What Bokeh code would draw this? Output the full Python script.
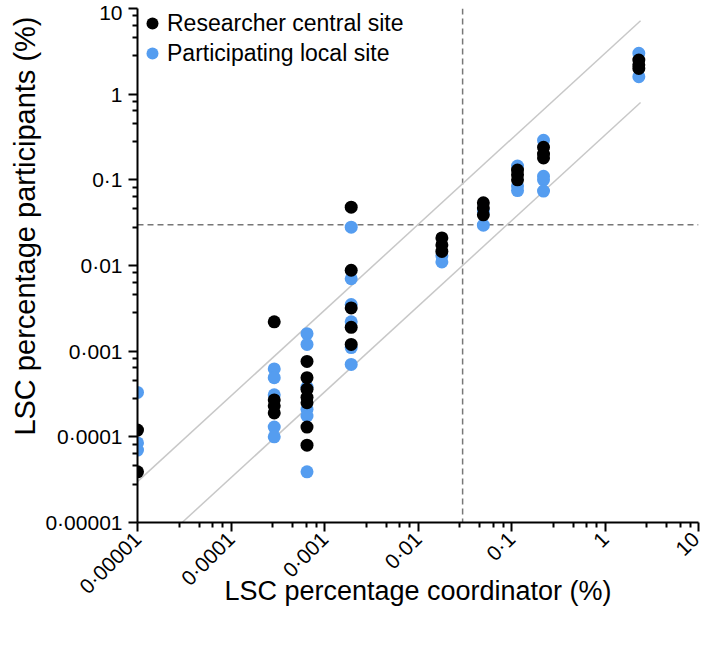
import math
from bokeh.plotting import figure
from bokeh.models import (FixedTicker, CustomJSTickFormatter, Span, Legend, LegendItem, Title)
from bokeh.embed import file_html
from bokeh.resources import INLINE

# ---- data (percent) ----
researcher_x = [1e-5, 1e-5,
                2.9e-4, 2.9e-4, 2.9e-4, 2.9e-4,
                6.5e-4, 6.5e-4, 6.5e-4, 6.5e-4, 6.5e-4, 6.5e-4, 6.5e-4,
                1.93e-3, 1.93e-3, 1.93e-3, 1.93e-3, 1.93e-3,
                0.018, 0.018, 0.018,
                0.05, 0.05, 0.05,
                0.116, 0.116, 0.116,
                0.22, 0.22, 0.22,
                2.3, 2.3, 2.3]
researcher_y = [1.2e-4, 3.9e-5,
                2.2e-3, 2.7e-4, 2.3e-4, 1.9e-4,
                7.6e-4, 4.9e-4, 3.6e-4, 2.9e-4, 2.5e-4, 1.3e-4, 8.0e-5,
                0.048, 8.8e-3, 3.2e-3, 1.9e-3, 1.2e-3,
                0.021, 0.0174, 0.0146,
                0.054, 0.047, 0.039,
                0.13, 0.115, 0.10,
                0.24, 0.20, 0.18,
                2.5, 2.2, 2.0]

local_x = [1e-5, 1e-5, 1e-5,
           2.9e-4, 2.9e-4, 2.9e-4, 2.9e-4, 2.9e-4,
           6.5e-4, 6.5e-4, 6.5e-4, 6.5e-4, 6.5e-4, 6.5e-4,
           1.93e-3, 1.93e-3, 1.93e-3, 1.93e-3, 1.93e-3, 1.93e-3,
           0.018, 0.018,
           0.05, 0.05,
           0.116, 0.116, 0.116,
           0.22, 0.22, 0.22, 0.22,
           2.3, 2.3]
local_y = [3.3e-4, 8.5e-5, 7.0e-5,
           6.2e-4, 4.9e-4, 3.1e-4, 1.3e-4, 1.0e-4,
           1.6e-3, 1.2e-3, 3.8e-4, 2.1e-4, 1.75e-4, 3.9e-5,
           0.028, 7.0e-3, 3.5e-3, 2.2e-3, 1.1e-3, 7.0e-4,
           0.011, 0.013,
           0.0296, 0.043,
           0.145, 0.085, 0.075,
           0.29, 0.11, 0.10, 0.074,
           3.0, 1.6]

tick_values = [1e-5, 1e-4, 1e-3, 1e-2, 1e-1, 1.0, 10.0]
tick_labels = ["0\u00b700001", "0\u00b70001", "0\u00b7001", "0\u00b701", "0\u00b71", "1", "10"]
minor_factors = [2.8, 4.6, 6.4, 8.2]

x_title = "LSC percentage coordinator (%)"
y_title = "LSC percentage participants (%)"
series_names = ["Researcher central site", "Participating local site"]

threshold = 0.03          # dashed reference lines
band_factor = 3.0         # diagonal lines y = 3x and y = x/3
band_x = [1e-5, 2.4]

BLUE = "#559DF0"
FONT = "Liberation Sans"

p = figure(width=703, height=632, x_axis_type="log", y_axis_type="log",
           x_range=(1e-5, 10), y_range=(1e-5, 10),
           output_backend="svg", toolbar_location=None,
           min_border_left=137, min_border_right=5, min_border_top=8,
           min_border_bottom=110)
p.outline_line_color = None
p.grid.visible = False

# diagonal band lines
upper_y = [v * band_factor for v in band_x]
lower_x = [band_x[0] * band_factor, band_x[1]]
lower_y = [v / band_factor for v in lower_x]
p.line(band_x, upper_y, line_color="#C8C8C8", line_width=1.5)
p.line(lower_x, lower_y, line_color="#C8C8C8", line_width=1.5)

p.add_layout(Span(location=threshold, dimension="height", line_color="#777777",
                  line_dash="6 4", line_width=1.5, level="underlay"))
p.add_layout(Span(location=threshold, dimension="width", line_color="#777777",
                  line_dash="6 4", line_width=1.5, level="underlay"))

r_local = p.scatter(local_x, local_y, size=13, fill_color=BLUE, line_color=None)
r_res = p.scatter(researcher_x, researcher_y, size=13, fill_color="black", line_color=None)

minor = [f * t for t in tick_values[:-1] for f in minor_factors]
fmt = CustomJSTickFormatter(args=dict(tvals=tick_values, tlabs=tick_labels), code="""
const i = tvals.findIndex(t => Math.abs(Math.log10(t) - Math.log10(tick)) < 1e-6);
return i >= 0 ? tlabs[i] : '';
""")

for ax in (p.xaxis[0], p.yaxis[0]):
    ax.ticker = FixedTicker(ticks=tick_values, minor_ticks=minor)
    ax.formatter = fmt
    ax.axis_line_width = 2
    ax.axis_line_color = "black"
    ax.major_tick_line_width = 2
    ax.minor_tick_line_width = 2
    ax.major_tick_out = 9
    ax.major_tick_in = 0
    ax.minor_tick_out = 5
    ax.minor_tick_in = 0
    ax.major_label_text_font = FONT
    ax.major_label_text_font_size = "21px"
    ax.major_label_text_color = "black"

p.xaxis.major_label_orientation = math.pi / 4
p.xaxis.major_label_standoff = 4
p.yaxis.major_label_standoff = 6

p.xaxis.axis_label = x_title
p.xaxis.axis_label_text_font = FONT
p.xaxis.axis_label_text_font_style = "normal"
p.xaxis.axis_label_text_font_size = "27px"
p.xaxis.axis_label_text_color = "black"
p.xaxis.axis_label_standoff = -33

p.add_layout(Title(text=y_title, align="right", offset=8, standoff=4,
                   text_font=FONT, text_font_style="normal", text_font_size="29px",
                   text_color="black"), "left")

legend = Legend(items=[LegendItem(label=series_names[0], renderers=[r_res]),
                       LegendItem(label=series_names[1], renderers=[r_local])],
                location=(0, 454))
legend.label_text_font = FONT
legend.label_text_font_size = "23px"
legend.label_text_color = "black"
legend.border_line_color = None
legend.background_fill_alpha = 0
legend.margin = 0
legend.padding = 0
legend.spacing = 0
legend.glyph_width = 30
legend.glyph_height = 30
legend.label_standoff = -8
legend.label_height = 30
p.add_layout(legend)

open("out.html", "w").write(file_html(p, INLINE))
